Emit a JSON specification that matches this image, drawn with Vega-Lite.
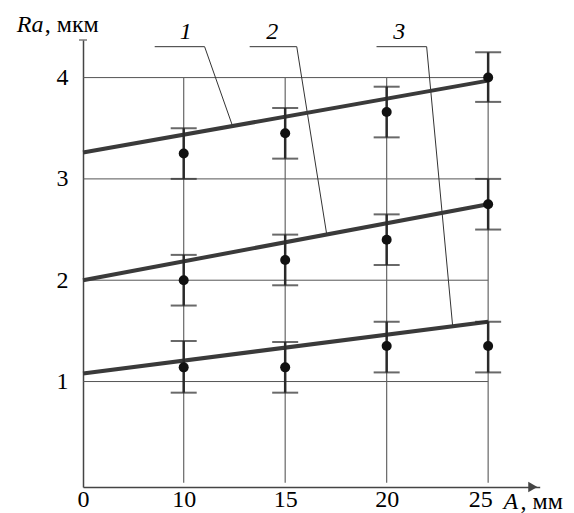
{
  "$schema": "https://vega.github.io/schema/vega-lite/v6.json",
  "width": 457,
  "height": 447,
  "autosize": {"type": "none"},
  "padding": {"left": 83, "top": 40, "right": 34, "bottom": 26},
  "background": "white",
  "config": {"view": {"stroke": null}, "font": "Liberation Serif",
    "axis": {"labelFont": "Liberation Serif"},
    "text": {"font": "Liberation Serif"}},
  "datasets": {
    "pts": [
      {"s": "1", "x": 10, "y": 3.25, "lo": 3.0, "hi": 3.5},
      {"s": "1", "x": 15, "y": 3.45, "lo": 3.2, "hi": 3.7},
      {"s": "1", "x": 20, "y": 3.66, "lo": 3.41, "hi": 3.91},
      {"s": "1", "x": 25, "y": 4.0, "lo": 3.76, "hi": 4.25},
      {"s": "2", "x": 10, "y": 2.0, "lo": 1.75, "hi": 2.25},
      {"s": "2", "x": 15, "y": 2.2, "lo": 1.95, "hi": 2.45},
      {"s": "2", "x": 20, "y": 2.4, "lo": 2.15, "hi": 2.65},
      {"s": "2", "x": 25, "y": 2.75, "lo": 2.5, "hi": 3.0},
      {"s": "3", "x": 10, "y": 1.14, "lo": 0.89, "hi": 1.4},
      {"s": "3", "x": 15, "y": 1.14, "lo": 0.89, "hi": 1.39},
      {"s": "3", "x": 20, "y": 1.35, "lo": 1.09, "hi": 1.59},
      {"s": "3", "x": 25, "y": 1.35, "lo": 1.09, "hi": 1.59}
    ],
    "fits": [
      {"s": "1", "x": 0, "y": 3.26}, {"s": "1", "x": 25, "y": 3.97},
      {"s": "2", "x": 0, "y": 2.0}, {"s": "2", "x": 25, "y": 2.75},
      {"s": "3", "x": 0, "y": 1.08}, {"s": "3", "x": 25, "y": 1.59}
    ],
    "hgrid": [
      {"y": 1, "x0": 0, "x1": 25}, {"y": 2, "x0": 0, "x1": 25},
      {"y": 3, "x0": 0, "x1": 25}, {"y": 4, "x0": 0, "x1": 25}
    ],
    "vgrid": [
      {"x": 10, "y0": 0, "y1": 4}, {"x": 15, "y0": 0, "y1": 4},
      {"x": 20, "y0": 0, "y1": 4}, {"x": 25, "y0": 0, "y1": 4}
    ],
    "leaders": [
      {"n": "1", "x0": 7.12, "y0": 4.305, "x1": 11.03, "y1": 4.305},
      {"n": "1", "x0": 11.03, "y0": 4.305, "x1": 12.41, "y1": 3.52},
      {"n": "2", "x0": 13.25, "y0": 4.305, "x1": 15.57, "y1": 4.305},
      {"n": "2", "x0": 15.57, "y0": 4.305, "x1": 17.04, "y1": 2.46},
      {"n": "3", "x0": 19.5, "y0": 4.305, "x1": 21.97, "y1": 4.305},
      {"n": "3", "x0": 21.97, "y0": 4.305, "x1": 23.25, "y1": 1.55}
    ],
    "nums": [
      {"t": "1", "x": 10.1, "y": 4.381},
      {"t": "2", "x": 14.36, "y": 4.381},
      {"t": "3", "x": 20.62, "y": 4.381}
    ],
    "ytitleA": [{"t": "Ra", "x": -6.58, "y": 4.45}],
    "ytitleB": [{"t": ", мкм", "x": -3.8, "y": 4.45}],
    "xtitleA": [{"t": "A", "x": 25.76, "y": -0.259}],
    "xtitleB": [{"t": ", мм", "x": 26.6, "y": -0.259}],
    "arrow": [{"x": 27.2, "y": -0.041}],
    "ytop": [{"x": 0, "y": 4.371}]
  },
  "layer": [
    {
      "data": {"name": "hgrid"},
      "mark": {"type": "rule", "color": "#555", "strokeWidth": 1},
      "encoding": {
        "x": {"field": "x0", "type": "quantitative", "title": null,
              "scale": {"domain": [0, 10, 27.54], "range": [0, 100.7, 456.7], "nice": false, "zero": false},
              "axis": {"values": [0, 10, 15, 20, 25], "grid": false, "ticks": false, "domainColor": "#444", "domainWidth": 1.5, "labelFontSize": 24, "labelColor": "#000", "labelPadding": 0, "labelFlush": false, "labelOverlap": false, "labelOffset": {"condition": {"test": "datum.value == 25", "value": -8}, "value": 0}, "title": null}},
        "x2": {"field": "x1"},
        "y": {"field": "y", "type": "quantitative", "title": null,
              "scale": {"domain": [-0.041, 4.371], "nice": false, "zero": false},
              "axis": {"values": [1, 2, 3, 4], "grid": false, "ticks": false, "domainColor": "#444", "domainWidth": 1.5, "labelFontSize": 24, "labelColor": "#000", "labelPadding": 15, "title": null}}
      }
    },
    {
      "data": {"name": "vgrid"},
      "mark": {"type": "rule", "color": "#666", "strokeWidth": 1.2},
      "encoding": {
        "x": {"field": "x", "type": "quantitative", "title": null, "scale": {"domain": [0, 10, 27.54], "range": [0, 100.7, 456.7], "nice": false, "zero": false},
              "axis": {"values": [0, 10, 15, 20, 25], "grid": false, "ticks": false, "domainColor": "#444", "domainWidth": 1.5, "labelFontSize": 24, "labelColor": "#000", "labelPadding": 0, "labelFlush": false, "labelOverlap": false, "labelOffset": {"condition": {"test": "datum.value == 25", "value": -8}, "value": 0}, "title": null}},
        "y": {"field": "y0", "type": "quantitative", "title": null, "scale": {"domain": [-0.041, 4.371], "nice": false, "zero": false},
              "axis": {"values": [1, 2, 3, 4], "grid": false, "ticks": false, "domainColor": "#444", "domainWidth": 1.5, "labelFontSize": 24, "labelColor": "#000", "labelPadding": 15, "title": null}},
        "y2": {"field": "y1"}
      }
    },
    {
      "data": {"name": "leaders"},
      "mark": {"type": "rule", "color": "#333", "strokeWidth": 1},
      "encoding": {
        "x": {"field": "x0", "type": "quantitative", "title": null, "scale": {"domain": [0, 10, 27.54], "range": [0, 100.7, 456.7], "nice": false, "zero": false},
              "axis": {"values": [0, 10, 15, 20, 25], "grid": false, "ticks": false, "domainColor": "#444", "domainWidth": 1.5, "labelFontSize": 24, "labelColor": "#000", "labelPadding": 0, "labelFlush": false, "labelOverlap": false, "labelOffset": {"condition": {"test": "datum.value == 25", "value": -8}, "value": 0}, "title": null}},
        "x2": {"field": "x1"},
        "y": {"field": "y0", "type": "quantitative", "title": null, "scale": {"domain": [-0.041, 4.371], "nice": false, "zero": false},
              "axis": {"values": [1, 2, 3, 4], "grid": false, "ticks": false, "domainColor": "#444", "domainWidth": 1.5, "labelFontSize": 24, "labelColor": "#000", "labelPadding": 15, "title": null}},
        "y2": {"field": "y1"}
      }
    },
    {
      "data": {"name": "fits"},
      "mark": {"type": "line", "color": "#3a3a3a", "strokeWidth": 4},
      "encoding": {
        "x": {"field": "x", "type": "quantitative", "title": null, "scale": {"domain": [0, 10, 27.54], "range": [0, 100.7, 456.7], "nice": false, "zero": false},
              "axis": {"values": [0, 10, 15, 20, 25], "grid": false, "ticks": false, "domainColor": "#444", "domainWidth": 1.5, "labelFontSize": 24, "labelColor": "#000", "labelPadding": 0, "labelFlush": false, "labelOverlap": false, "labelOffset": {"condition": {"test": "datum.value == 25", "value": -8}, "value": 0}, "title": null}},
        "y": {"field": "y", "type": "quantitative", "title": null, "scale": {"domain": [-0.041, 4.371], "nice": false, "zero": false},
              "axis": {"values": [1, 2, 3, 4], "grid": false, "ticks": false, "domainColor": "#444", "domainWidth": 1.5, "labelFontSize": 24, "labelColor": "#000", "labelPadding": 15, "title": null}},
        "detail": {"field": "s"}
      }
    },
    {
      "data": {"name": "pts"},
      "mark": {"type": "rule", "color": "#2a2a2a", "strokeWidth": 2.5},
      "encoding": {
        "x": {"field": "x", "type": "quantitative", "title": null, "scale": {"domain": [0, 10, 27.54], "range": [0, 100.7, 456.7], "nice": false, "zero": false},
              "axis": {"values": [0, 10, 15, 20, 25], "grid": false, "ticks": false, "domainColor": "#444", "domainWidth": 1.5, "labelFontSize": 24, "labelColor": "#000", "labelPadding": 0, "labelFlush": false, "labelOverlap": false, "labelOffset": {"condition": {"test": "datum.value == 25", "value": -8}, "value": 0}, "title": null}},
        "y": {"field": "lo", "type": "quantitative", "title": null, "scale": {"domain": [-0.041, 4.371], "nice": false, "zero": false},
              "axis": {"values": [1, 2, 3, 4], "grid": false, "ticks": false, "domainColor": "#444", "domainWidth": 1.5, "labelFontSize": 24, "labelColor": "#000", "labelPadding": 15, "title": null}},
        "y2": {"field": "hi"}
      }
    },
    {
      "data": {"name": "pts"},
      "mark": {"type": "tick", "orient": "horizontal", "color": "#2a2a2a", "size": 26, "thickness": 2},
      "encoding": {
        "x": {"field": "x", "type": "quantitative", "title": null, "scale": {"domain": [0, 10, 27.54], "range": [0, 100.7, 456.7], "nice": false, "zero": false},
              "axis": {"values": [0, 10, 15, 20, 25], "grid": false, "ticks": false, "domainColor": "#444", "domainWidth": 1.5, "labelFontSize": 24, "labelColor": "#000", "labelPadding": 0, "labelFlush": false, "labelOverlap": false, "labelOffset": {"condition": {"test": "datum.value == 25", "value": -8}, "value": 0}, "title": null}},
        "y": {"field": "lo", "type": "quantitative", "title": null, "scale": {"domain": [-0.041, 4.371], "nice": false, "zero": false},
              "axis": {"values": [1, 2, 3, 4], "grid": false, "ticks": false, "domainColor": "#444", "domainWidth": 1.5, "labelFontSize": 24, "labelColor": "#000", "labelPadding": 15, "title": null}}
      }
    },
    {
      "data": {"name": "pts"},
      "mark": {"type": "tick", "orient": "horizontal", "color": "#2a2a2a", "size": 26, "thickness": 2},
      "encoding": {
        "x": {"field": "x", "type": "quantitative", "title": null, "scale": {"domain": [0, 10, 27.54], "range": [0, 100.7, 456.7], "nice": false, "zero": false},
              "axis": {"values": [0, 10, 15, 20, 25], "grid": false, "ticks": false, "domainColor": "#444", "domainWidth": 1.5, "labelFontSize": 24, "labelColor": "#000", "labelPadding": 0, "labelFlush": false, "labelOverlap": false, "labelOffset": {"condition": {"test": "datum.value == 25", "value": -8}, "value": 0}, "title": null}},
        "y": {"field": "hi", "type": "quantitative", "title": null, "scale": {"domain": [-0.041, 4.371], "nice": false, "zero": false},
              "axis": {"values": [1, 2, 3, 4], "grid": false, "ticks": false, "domainColor": "#444", "domainWidth": 1.5, "labelFontSize": 24, "labelColor": "#000", "labelPadding": 15, "title": null}}
      }
    },
    {
      "data": {"name": "pts"},
      "mark": {"type": "point", "filled": true, "color": "#111", "opacity": 1, "size": 100},
      "encoding": {
        "x": {"field": "x", "type": "quantitative", "title": null, "scale": {"domain": [0, 10, 27.54], "range": [0, 100.7, 456.7], "nice": false, "zero": false},
              "axis": {"values": [0, 10, 15, 20, 25], "grid": false, "ticks": false, "domainColor": "#444", "domainWidth": 1.5, "labelFontSize": 24, "labelColor": "#000", "labelPadding": 0, "labelFlush": false, "labelOverlap": false, "labelOffset": {"condition": {"test": "datum.value == 25", "value": -8}, "value": 0}, "title": null}},
        "y": {"field": "y", "type": "quantitative", "title": null, "scale": {"domain": [-0.041, 4.371], "nice": false, "zero": false},
              "axis": {"values": [1, 2, 3, 4], "grid": false, "ticks": false, "domainColor": "#444", "domainWidth": 1.5, "labelFontSize": 24, "labelColor": "#000", "labelPadding": 15, "title": null}}
      }
    },
    {
      "data": {"name": "nums"},
      "mark": {"type": "text", "fontStyle": "italic", "fontSize": 24, "align": "center", "baseline": "alphabetic", "color": "#000"},
      "encoding": {
        "x": {"field": "x", "type": "quantitative", "title": null, "scale": {"domain": [0, 10, 27.54], "range": [0, 100.7, 456.7], "nice": false, "zero": false},
              "axis": {"values": [0, 10, 15, 20, 25], "grid": false, "ticks": false, "domainColor": "#444", "domainWidth": 1.5, "labelFontSize": 24, "labelColor": "#000", "labelPadding": 0, "labelFlush": false, "labelOverlap": false, "labelOffset": {"condition": {"test": "datum.value == 25", "value": -8}, "value": 0}, "title": null}},
        "y": {"field": "y", "type": "quantitative", "title": null, "scale": {"domain": [-0.041, 4.371], "nice": false, "zero": false},
              "axis": {"values": [1, 2, 3, 4], "grid": false, "ticks": false, "domainColor": "#444", "domainWidth": 1.5, "labelFontSize": 24, "labelColor": "#000", "labelPadding": 15, "title": null}},
        "text": {"field": "t"}
      }
    },
    {
      "data": {"name": "ytitleA"},
      "mark": {"type": "text", "fontStyle": "italic", "fontSize": 24, "align": "left", "baseline": "alphabetic", "color": "#000"},
      "encoding": {
        "x": {"field": "x", "type": "quantitative", "title": null, "scale": {"domain": [0, 10, 27.54], "range": [0, 100.7, 456.7], "nice": false, "zero": false},
              "axis": {"values": [0, 10, 15, 20, 25], "grid": false, "ticks": false, "domainColor": "#444", "domainWidth": 1.5, "labelFontSize": 24, "labelColor": "#000", "labelPadding": 0, "labelFlush": false, "labelOverlap": false, "labelOffset": {"condition": {"test": "datum.value == 25", "value": -8}, "value": 0}, "title": null}},
        "y": {"field": "y", "type": "quantitative", "title": null, "scale": {"domain": [-0.041, 4.371], "nice": false, "zero": false},
              "axis": {"values": [1, 2, 3, 4], "grid": false, "ticks": false, "domainColor": "#444", "domainWidth": 1.5, "labelFontSize": 24, "labelColor": "#000", "labelPadding": 15, "title": null}},
        "text": {"field": "t"}
      }
    },
    {
      "data": {"name": "ytitleB"},
      "mark": {"type": "text", "fontSize": 24, "align": "left", "baseline": "alphabetic", "color": "#000"},
      "encoding": {
        "x": {"field": "x", "type": "quantitative", "title": null, "scale": {"domain": [0, 10, 27.54], "range": [0, 100.7, 456.7], "nice": false, "zero": false},
              "axis": {"values": [0, 10, 15, 20, 25], "grid": false, "ticks": false, "domainColor": "#444", "domainWidth": 1.5, "labelFontSize": 24, "labelColor": "#000", "labelPadding": 0, "labelFlush": false, "labelOverlap": false, "labelOffset": {"condition": {"test": "datum.value == 25", "value": -8}, "value": 0}, "title": null}},
        "y": {"field": "y", "type": "quantitative", "title": null, "scale": {"domain": [-0.041, 4.371], "nice": false, "zero": false},
              "axis": {"values": [1, 2, 3, 4], "grid": false, "ticks": false, "domainColor": "#444", "domainWidth": 1.5, "labelFontSize": 24, "labelColor": "#000", "labelPadding": 15, "title": null}},
        "text": {"field": "t"}
      }
    },
    {
      "data": {"name": "xtitleA"},
      "mark": {"type": "text", "fontStyle": "italic", "fontSize": 24, "align": "left", "baseline": "alphabetic", "color": "#000"},
      "encoding": {
        "x": {"field": "x", "type": "quantitative", "title": null, "scale": {"domain": [0, 10, 27.54], "range": [0, 100.7, 456.7], "nice": false, "zero": false},
              "axis": {"values": [0, 10, 15, 20, 25], "grid": false, "ticks": false, "domainColor": "#444", "domainWidth": 1.5, "labelFontSize": 24, "labelColor": "#000", "labelPadding": 0, "labelFlush": false, "labelOverlap": false, "labelOffset": {"condition": {"test": "datum.value == 25", "value": -8}, "value": 0}, "title": null}},
        "y": {"field": "y", "type": "quantitative", "title": null, "scale": {"domain": [-0.041, 4.371], "nice": false, "zero": false},
              "axis": {"values": [1, 2, 3, 4], "grid": false, "ticks": false, "domainColor": "#444", "domainWidth": 1.5, "labelFontSize": 24, "labelColor": "#000", "labelPadding": 15, "title": null}},
        "text": {"field": "t"}
      }
    },
    {
      "data": {"name": "xtitleB"},
      "mark": {"type": "text", "fontSize": 24, "align": "left", "baseline": "alphabetic", "color": "#000"},
      "encoding": {
        "x": {"field": "x", "type": "quantitative", "title": null, "scale": {"domain": [0, 10, 27.54], "range": [0, 100.7, 456.7], "nice": false, "zero": false},
              "axis": {"values": [0, 10, 15, 20, 25], "grid": false, "ticks": false, "domainColor": "#444", "domainWidth": 1.5, "labelFontSize": 24, "labelColor": "#000", "labelPadding": 0, "labelFlush": false, "labelOverlap": false, "labelOffset": {"condition": {"test": "datum.value == 25", "value": -8}, "value": 0}, "title": null}},
        "y": {"field": "y", "type": "quantitative", "title": null, "scale": {"domain": [-0.041, 4.371], "nice": false, "zero": false},
              "axis": {"values": [1, 2, 3, 4], "grid": false, "ticks": false, "domainColor": "#444", "domainWidth": 1.5, "labelFontSize": 24, "labelColor": "#000", "labelPadding": 15, "title": null}},
        "text": {"field": "t"}
      }
    },
    {
      "data": {"name": "arrow"},
      "mark": {"type": "point", "shape": "triangle-right", "filled": true, "color": "#444", "opacity": 1, "size": 110},
      "encoding": {
        "x": {"field": "x", "type": "quantitative", "title": null, "scale": {"domain": [0, 10, 27.54], "range": [0, 100.7, 456.7], "nice": false, "zero": false},
              "axis": {"values": [0, 10, 15, 20, 25], "grid": false, "ticks": false, "domainColor": "#444", "domainWidth": 1.5, "labelFontSize": 24, "labelColor": "#000", "labelPadding": 0, "labelFlush": false, "labelOverlap": false, "labelOffset": {"condition": {"test": "datum.value == 25", "value": -8}, "value": 0}, "title": null}},
        "y": {"field": "y", "type": "quantitative", "title": null, "scale": {"domain": [-0.041, 4.371], "nice": false, "zero": false},
              "axis": {"values": [1, 2, 3, 4], "grid": false, "ticks": false, "domainColor": "#444", "domainWidth": 1.5, "labelFontSize": 24, "labelColor": "#000", "labelPadding": 15, "title": null}}
      }
    },
    {
      "data": {"name": "ytop"},
      "mark": {"type": "tick", "orient": "horizontal", "color": "#444", "size": 8, "thickness": 1.5},
      "encoding": {
        "x": {"field": "x", "type": "quantitative", "title": null, "scale": {"domain": [0, 10, 27.54], "range": [0, 100.7, 456.7], "nice": false, "zero": false},
              "axis": {"values": [0, 10, 15, 20, 25], "grid": false, "ticks": false, "domainColor": "#444", "domainWidth": 1.5, "labelFontSize": 24, "labelColor": "#000", "labelPadding": 0, "labelFlush": false, "labelOverlap": false, "labelOffset": {"condition": {"test": "datum.value == 25", "value": -8}, "value": 0}, "title": null}},
        "y": {"field": "y", "type": "quantitative", "title": null, "scale": {"domain": [-0.041, 4.371], "nice": false, "zero": false},
              "axis": {"values": [1, 2, 3, 4], "grid": false, "ticks": false, "domainColor": "#444", "domainWidth": 1.5, "labelFontSize": 24, "labelColor": "#000", "labelPadding": 15, "title": null}}
      }
    }
  ]
}
